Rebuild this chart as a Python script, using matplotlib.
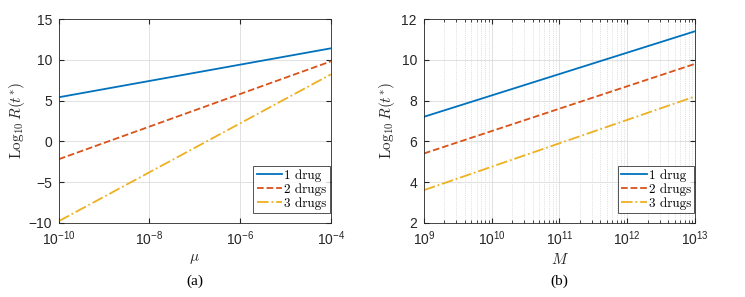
import numpy as np
import matplotlib.pyplot as plt
from matplotlib.ticker import LogLocator, NullFormatter, NullLocator, FixedLocator

plt.rcParams['font.family'] = ['Liberation Sans', 'DejaVu Sans']
plt.rcParams['mathtext.fontset'] = 'cm'

# panel (a): log10 R(t*) vs mu
mu = [1e-10, 1e-8, 1e-6, 1e-4]
a_1drug = [5.4, 7.4, 9.4, 11.4]
a_2drugs = [-2.2, 1.8, 5.8, 9.8]
a_3drugs = [-9.8, -3.8, 2.2, 8.2]

# panel (b): log10 R(t*) vs M
M = [1e9, 1e10, 1e11, 1e12, 1e13]
b_1drug = [7.2, 8.25, 9.3, 10.35, 11.4]
b_2drugs = [5.4, 6.5, 7.6, 8.7, 9.8]
b_3drugs = [3.6, 4.75, 5.9, 7.05, 8.2]

labels = ['1 drug', '2 drugs', '3 drugs']
colors = ['#0072BD', '#D95319', '#EDB120']
styles = ['-', '--', '-.']

fig = plt.figure(figsize=(7.45, 2.97), dpi=100)
ax1 = fig.add_axes([0.079, 0.250, 0.365, 0.686])
ax2 = fig.add_axes([0.569, 0.250, 0.364, 0.686])
ax1.set_xscale('log')
ax2.set_xscale('log')


def style_axis(ax, xlabel, caption, ylab_x):
    ax.tick_params(direction='in', which='both', top=True, right=True, labelsize=10,
                   colors='#262626', pad=5)
    ax.tick_params(which='minor', length=2)
    ax.set_xlabel(xlabel, fontsize=11, color='#262626', labelpad=3)
    ax.set_ylabel(r'$\mathrm{Log}_{10}\,R(t^{*})$', fontsize=11, color='#262626')
    ax.yaxis.set_label_coords(ylab_x, 0.5)
    for s in ax.spines.values():
        s.set_linewidth(0.6)
        s.set_color('#262626')
    leg = ax.legend(loc='lower right', bbox_to_anchor=(1.0, 0.045),
                    prop={'family': 'cmr10', 'size': 9.5}, frameon=True,
                    fancybox=False, borderpad=0.25, labelspacing=0.1, handlelength=1.95,
                    handletextpad=0.15, borderaxespad=0.05)
    leg.get_frame().set_edgecolor('#262626')
    leg.get_frame().set_linewidth(0.7)
    ax.text(0.5, -0.255, caption, transform=ax.transAxes, ha='center', va='top',
            fontsize=11, family='Liberation Serif')


for ys, lab, c, ls in zip([a_1drug, a_2drugs, a_3drugs], labels, colors, styles):
    ax1.plot(mu, ys, color=c, linestyle=ls, linewidth=1.3, label=lab)
ax1.set_xlim(1e-10, 1e-4)
ax1.set_ylim(-10, 15)
ax1.set_yticks([-10, -5, 0, 5, 10, 15])
ax1.xaxis.set_major_locator(FixedLocator([1e-10, 1e-8, 1e-6, 1e-4]))
ax1.xaxis.set_minor_locator(NullLocator())
ax1.grid(True, which='major', color='#dcdcdc', linewidth=0.6)
style_axis(ax1, r'$\mu$', '(a)', -0.118)

for ys, lab, c, ls in zip([b_1drug, b_2drugs, b_3drugs], labels, colors, styles):
    ax2.plot(M, ys, color=c, linestyle=ls, linewidth=1.3, label=lab)
ax2.set_xlim(1e9, 1e13)
ax2.set_ylim(2, 12)
ax2.set_yticks([2, 4, 6, 8, 10, 12])
ax2.xaxis.set_major_locator(LogLocator(base=10, numticks=20))
ax2.xaxis.set_minor_locator(LogLocator(base=10, subs=np.arange(2, 10), numticks=20))
ax2.xaxis.set_minor_formatter(NullFormatter())
ax2.grid(True, which='major', color='#dcdcdc', linewidth=0.6)
ax2.grid(True, which='minor', axis='x', color='#c8c8c8', linewidth=0.5, linestyle=':')
style_axis(ax2, r'$M$', '(b)', -0.10)

fig.savefig('out.png', dpi=100)
